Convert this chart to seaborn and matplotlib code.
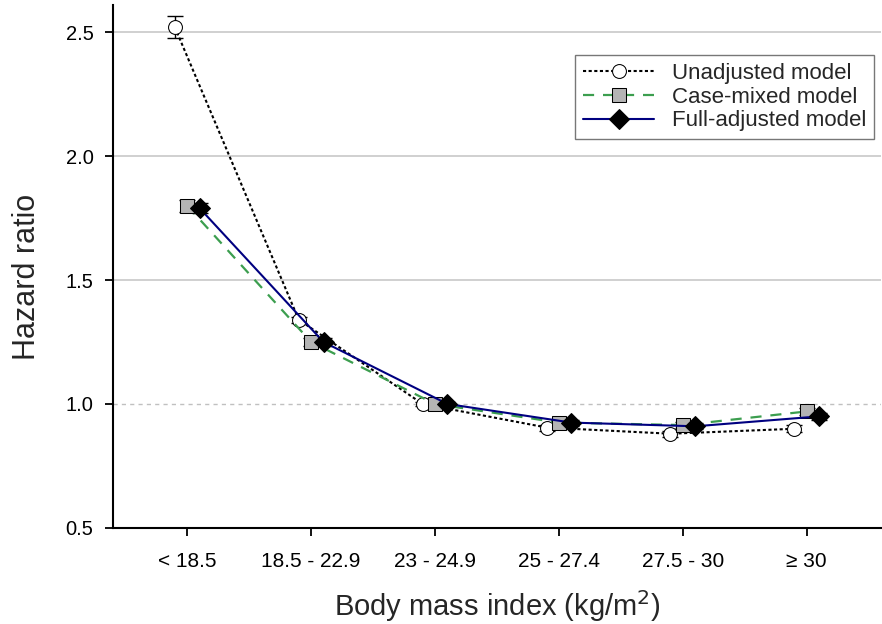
import matplotlib
matplotlib.use("Agg")
import matplotlib.pyplot as plt
import seaborn as sns
import numpy as np
import pandas as pd

categories = ["< 18.5", "18.5 - 22.9", "23 - 24.9", "25 - 27.4", "27.5 - 30", "\u2265 30"]
unadjusted = [2.52, 1.34, 1.00, 0.905, 0.88, 0.90]
unadjusted_err = [0.045, 0.012, 0.01, 0.012, 0.012, 0.015]
casemixed = [1.80, 1.25, 1.00, 0.925, 0.915, 0.97]
casemixed_err = [0.025, 0.015, 0.01, 0.012, 0.012, 0.015]
fulladj = [1.79, 1.25, 1.00, 0.925, 0.91, 0.95]
fulladj_err = [0.02, 0.015, 0.01, 0.012, 0.012, 0.015]

sns.set_theme(style="white")
plt.rcParams['font.family'] = ['Liberation Sans', 'DejaVu Sans']

fig = plt.figure(figsize=(8.82, 6.24), dpi=100)
ax = fig.add_axes([0.128, 0.154, 0.871, 0.838])

xpos = np.arange(len(categories))
series = [
    ("Unadjusted model", unadjusted, unadjusted_err, -0.1, dict(color="black", linestyle=(0, (1.5, 1.2)), marker="o", markersize=10, markerfacecolor="white", markeredgecolor="black", linewidth=1.5)),
    ("Case-mixed model", casemixed, casemixed_err, 0.0, dict(color="#3c9e4f", linestyle=(0, (5, 4)), marker="s", markersize=9.5, markerfacecolor="#b4b4b4", markeredgecolor="black", linewidth=1.6)),
    ("Full-adjusted model", fulladj, fulladj_err, 0.1, dict(color="#000080", linestyle="-", marker="D", markersize=10.5, markerfacecolor="black", markeredgecolor="black", linewidth=1.5)),
]

for g in [1.5, 2.0, 2.5]:
    ax.axhline(g, color="#c8c8c8", linewidth=1.2, zorder=0)
ax.axhline(1.0, color="#c0c0c0", linewidth=1.0, linestyle=(0, (3, 3)), zorder=0)

for name, vals, errs, off, style in series:
    df = pd.DataFrame({"x": xpos + off, "y": vals})
    ax.errorbar(xpos + off, vals, yerr=errs, fmt="none", ecolor="black", elinewidth=1.0, capsize=6, capthick=1.0, zorder=2)
    sns.lineplot(data=df, x="x", y="y", ax=ax, label=name, zorder=3, **style)

ax.set_xlim(-0.6, 5.6)
ax.set_ylim(0.5, 2.61)
ax.set_yticks([0.5, 1.0, 1.5, 2.0, 2.5])
ax.set_yticklabels(["0.5", "1.0", "1.5", "2.0", "2.5"], fontsize=14.5)
ax.set_xticks(xpos)
ax.set_xticklabels(categories, fontsize=15)
ax.tick_params(axis="both", direction="out", length=6, width=1.3, colors="black", left=True, bottom=True)
ax.tick_params(axis="x", pad=11)
ax.tick_params(axis="y", pad=8)

for s in ["top", "right"]:
    ax.spines[s].set_visible(False)
for s in ["left", "bottom"]:
    ax.spines[s].set_color("black")
    ax.spines[s].set_linewidth(1.5)

ax.set_ylabel("Hazard ratio", fontsize=22, labelpad=10)
ax.yaxis.set_label_coords(-0.092, 0.48)
ax.set_xlabel("Body mass index (kg/m$^2$)", fontsize=21, labelpad=13)

leg = ax.legend(loc="upper right", bbox_to_anchor=(0.991, 0.904), borderaxespad=0, fontsize=16, frameon=True, fancybox=False,
                edgecolor="#555555", handlelength=3.2, borderpad=0.35, labelspacing=0.12, handletextpad=0.8)
leg.get_frame().set_linewidth(1.0)

fig.savefig("out.png", dpi=100)
